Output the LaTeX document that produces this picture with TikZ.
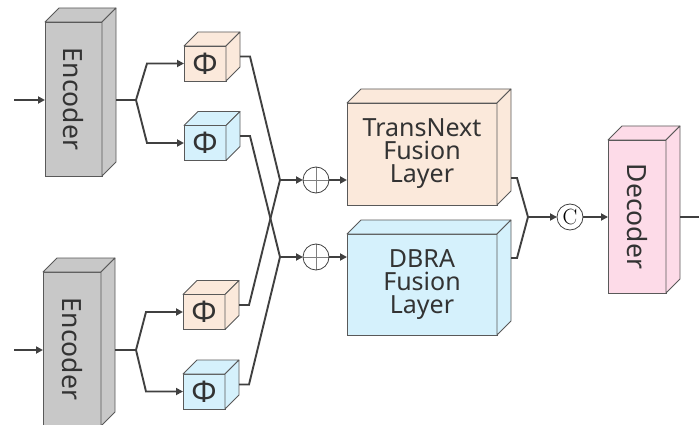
\documentclass[tikz,border=0pt]{standalone}
\usepackage{fontspec}
\newfontfamily\labelfont{Noto Sans}
\usetikzlibrary{arrows.meta,calc}

\definecolor{linegray}{HTML}{404040}
\definecolor{edgegray}{HTML}{595959}
\definecolor{encfill}{HTML}{C8C8C8}
\definecolor{peach}{HTML}{FBE9DB}
\definecolor{skyblue}{HTML}{D5F1FC}
\definecolor{pinkfill}{HTML}{FDDBE8}
\definecolor{textgray}{HTML}{333333}

% A box drawn as a solid: front face (the named node), top face and side face.
% #1 name, #2 #3 centre, #4 width, #5 height, #6 fill, #7 text
\newcommand{\solidbox}[7]{%
  \node[face, fill=#6, minimum width=#4pt, minimum height=#5pt] (#1) at (#2,#3) {#7};
  \draw[faceedge, fill=#6] (#1.north west) -- ++(14,-14) -- ++(#4,0) -- (#1.north east) -- cycle;
  \draw[faceedge, fill=#6] (#1.north east) -- ++(14,-14) -- ++(0,#5) -- (#1.south east) -- cycle;
}

\tikzset{
  face/.style={draw=edgegray, line width=0.8pt, inner sep=0pt, outer sep=0pt,
    text=textgray, align=center, font=\labelfont\fontsize{26.5}{26.5}\selectfont},
  faceedge/.style={draw=edgegray, line width=0.8pt, line join=round},
  conn/.style={draw=linegray, line width=1.9pt},
  trunk/.style={conn, line width=2.7pt},
  arr/.style={conn, -{Triangle[length=7pt,width=7pt]}},
  trunkarr/.style={trunk, -{Triangle[length=7pt,width=7pt]}},
  sumnode/.style={circle, draw=linegray, line width=0.8pt, fill=white,
    minimum size=26pt, inner sep=0pt, outer sep=0pt,
    path picture={\draw[gray, line width=0.6pt]
      (path picture bounding box.north) -- (path picture bounding box.south)
      (path picture bounding box.west) -- (path picture bounding box.east);}},
  catnode/.style={circle, draw=linegray, line width=0.8pt, fill=white,
    minimum size=26pt, inner sep=0pt, outer sep=0pt, text=black,
    font=\fontsize{22}{22}\selectfont},
}

\begin{document}
\begin{tikzpicture}[x=1pt, y=-1pt]
\useasboundingbox (0,0) rectangle (699,425);
\clip (0,0) rectangle (699,425);

% encoders
\solidbox{enc1}{73.5}{99}{57}{154}{encfill}{\rotatebox{-90}{Encoder}}
\solidbox{enc2}{72}{349}{58}{154}{encfill}{\rotatebox{-90}{Encoder}}
\solidbox{dec}{637}{216.5}{58}{153}{pinkfill}{\rotatebox{-90}{Decoder}}

% projection cubes
\tikzset{face/.append style={font=\labelfont\fontsize{30}{30}\selectfont}}
\solidbox{phiA}{205}{63.5}{42}{35}{peach}{Φ}
\solidbox{phiB}{205}{143}{42}{35}{skyblue}{Φ}
\solidbox{phiC}{204}{312}{42}{35}{peach}{Φ}
\solidbox{phiD}{204}{391.5}{42}{35}{skyblue}{Φ}

% fusion layers
\tikzset{face/.append style={font=\labelfont\fontsize{25}{23}\selectfont}}
\solidbox{trans}{422}{154}{150}{102}{peach}{TransNext\\Fusion\\Layer}
\solidbox{dbra}{422}{284.5}{150}{101}{skyblue}{DBRA\\Fusion\\Layer}

% merge nodes
\node[sumnode] (sumA) at (316,180) {};
\node[sumnode] (sumB) at (316,257) {};
\node[catnode] (cat) at (570,217) {C};

% auxiliary points
\coordinate (in1) at (14,100);
\coordinate (in2) at (14,350);
\coordinate (s1) at (136,100);
\coordinate (s2) at (136,350);
\coordinate (enc1o) at ($(enc1.east)+(14,1)$);
\coordinate (enc2o) at ($(enc2.east)+(14,1)$);
\coordinate (phiAo) at ($(phiA.east)+(14,-7)$);
\coordinate (phiBo) at ($(phiB.east)+(14,-7)$);
\coordinate (phiCo) at ($(phiC.east)+(14,-7)$);
\coordinate (phiDo) at ($(phiD.east)+(14,-7)$);
\coordinate (jA) at (280,180);
\coordinate (jB) at (280,257);
\coordinate (transo) at ($(trans.east)+(14,24)$);
\coordinate (dbrao) at ($(dbra.east)+(14,-26.5)$);
\coordinate (jC) at (528,217);
\coordinate (deco) at ($(dec.east)+(14,0.5)$);
\coordinate (outR) at (699,217);

% inputs
\draw[arr] (in1) -- (in1 -| enc1.west);
\draw[arr] (in2) -- (in2 -| enc2.west);

% encoder outputs split into two branches
\draw[trunk] (enc1o) -- (s1);
\draw[arr] (s1) -- ([xshift=-37pt]phiA.west) -- (phiA.west);
\draw[arr] (s1) -- ([xshift=-37pt]phiB.west) -- (phiB.west);
\draw[trunk] (enc2o) -- (s2);
\draw[arr] (s2) -- ([xshift=-37pt]phiC.west) -- (phiC.west);
\draw[arr] (s2) -- ([xshift=-37pt]phiD.west) -- (phiD.west);

% cross connections to the sums
\draw[conn] (phiAo) -- ++(10,0) -- (jA);
\draw[conn] (phiCo) -- ++(10,0) -- (jA);
\draw[conn] (phiBo) -- ++(10,0) -- (jB);
\draw[conn] (phiDo) -- ++(10,0) -- (jB);
\draw[trunkarr] (jA) -- (sumA.west);
\draw[trunkarr] (jB) -- (sumB.west);
\draw[arr] (sumA.east) -- (sumA.east -| trans.west);
\draw[arr] (sumB.east) -- (sumB.east -| dbra.west);

% fusion outputs to concatenation and decoder
\draw[conn] (transo) -- ++(6,0) -- (jC);
\draw[conn] (dbrao) -- ++(6,0) -- (jC);
\draw[trunkarr] (jC) -- (cat.west);
\draw[arr] (cat.east) -- (cat.east -| dec.west);
\draw[conn] (deco) -- (outR);
\end{tikzpicture}
\end{document}
